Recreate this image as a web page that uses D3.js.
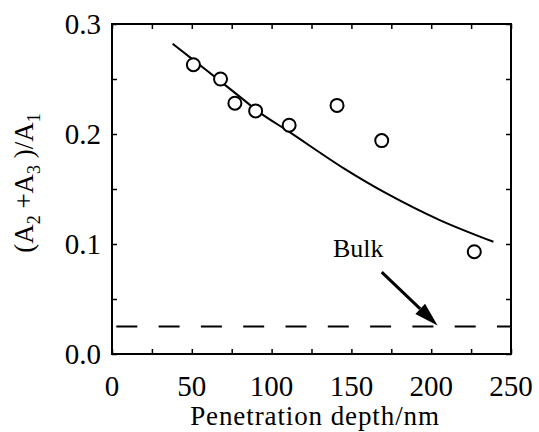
<!DOCTYPE html>
<html>
<head>
<meta charset="utf-8">
<script src="https://cdn.jsdelivr.net/npm/d3@7"></script>
<style>
  body { margin: 0; background: #fff; }
</style>
</head>
<body>
<div id="chart"></div>
<script>
// measured points
const depth = [51, 68, 77, 90, 111, 141, 169, 227];
const ratio = [0.263, 0.250, 0.228, 0.221, 0.208, 0.226, 0.194, 0.093];

// fitted curve
const fitDepth = [38, 60, 80, 93, 112, 145, 172, 205, 239];
const fitRatio = [0.282, 0.257, 0.234, 0.219, 0.201, 0.169, 0.146, 0.122, 0.102];

const bulkLevel = 0.025;
const arrowFrom = [169, 0.0745];
const arrowTo = [204, 0.026];

const xTicks = [0, 50, 100, 150, 200, 250];
const yTicks = [0.0, 0.1, 0.2, 0.3];

const serif = "'Liberation Serif', 'Times New Roman', Times, serif";

const width = 539, height = 432;
const margin = {top: 24, right: 28, bottom: 78, left: 112};

const svg = d3.select("#chart")
  .append("svg")
  .attr("width", width)
  .attr("height", height)
  .attr("font-family", serif);

const xScale = d3.scaleLinear()
  .domain([0, 250])
  .range([margin.left, width - margin.right]);

const yScale = d3.scaleLinear()
  .domain([0, 0.3])
  .range([height - margin.bottom, margin.top]);

const x0 = xScale(0), x1 = xScale(250), y0 = yScale(0), y1 = yScale(0.3);

// inward ticks on all four sides, every 25 nm and every 0.05
const minorX = d3.range(0, 251, 25);
const minorY = d3.range(0, 0.301, 0.05);

svg.append("g")
  .attr("transform", `translate(0, ${y0})`)
  .call(d3.axisBottom(xScale).tickValues(minorX).tickSize(-5).tickFormat(""))
  .call(g => g.select(".domain").remove());
svg.append("g")
  .attr("transform", `translate(0, ${y1})`)
  .call(d3.axisTop(xScale).tickValues(minorX).tickSize(-5).tickFormat(""))
  .call(g => g.select(".domain").remove());
svg.append("g")
  .attr("transform", `translate(${x0}, 0)`)
  .call(d3.axisLeft(yScale).tickValues(minorY).tickSize(-5).tickFormat(""))
  .call(g => g.select(".domain").remove());
svg.append("g")
  .attr("transform", `translate(${x1}, 0)`)
  .call(d3.axisRight(yScale).tickValues(minorY).tickSize(-5).tickFormat(""))
  .call(g => g.select(".domain").remove());

svg.selectAll(".tick line").attr("stroke", "#000").attr("stroke-width", 1.5);

// frame
svg.append("rect")
  .attr("x", x0).attr("y", y1)
  .attr("width", x1 - x0).attr("height", y0 - y1)
  .attr("fill", "none")
  .attr("stroke", "#000")
  .attr("stroke-width", 2);

// tick labels
svg.selectAll(".xlab")
  .data(xTicks)
  .enter()
  .append("text")
  .attr("class", "xlab")
  .attr("x", d => xScale(d))
  .attr("y", 396)
  .attr("text-anchor", "middle")
  .style("font-family", serif)
  .style("font-size", "29px")
  .text(d => d);

svg.selectAll(".ylab")
  .data(yTicks)
  .enter()
  .append("text")
  .attr("class", "ylab")
  .attr("x", x0 - 11)
  .attr("y", d => yScale(d))
  .attr("dy", "0.36em")
  .attr("text-anchor", "end")
  .style("font-family", serif)
  .style("font-size", "29px")
  .text(d => d.toFixed(1));

// axis titles
svg.append("text")
  .attr("x", 315)
  .attr("y", 425)
  .attr("text-anchor", "middle")
  .style("font-family", serif)
  .style("font-size", "27px")
  .style("letter-spacing", "0.9px")
  .text("Penetration depth/nm");

const yTitle = svg.append("text")
  .attr("transform", "translate(33, 183) rotate(-90)")
  .attr("text-anchor", "middle")
  .style("font-family", serif)
  .style("font-size", "27px");
yTitle.append("tspan").text("(A");
yTitle.append("tspan").attr("dy", 7).style("font-size", "18px").text("2");
yTitle.append("tspan").attr("dy", -7).text(" +A");
yTitle.append("tspan").attr("dy", 7).style("font-size", "18px").text("3");
yTitle.append("tspan").attr("dy", -7).text(" )/A");
yTitle.append("tspan").attr("dy", 7).style("font-size", "18px").text("1");

// bulk dashed level
svg.append("line")
  .attr("x1", x0).attr("x2", x1)
  .attr("y1", yScale(bulkLevel)).attr("y2", yScale(bulkLevel))
  .attr("stroke", "#000")
  .attr("stroke-width", 2)
  .attr("stroke-dasharray", "21,21.3")
  .attr("stroke-dashoffset", 38);

// fitted curve
const fit = fitDepth.map((d, i) => [d, fitRatio[i]]);
svg.append("path")
  .datum(fit)
  .attr("fill", "none")
  .attr("stroke", "#000")
  .attr("stroke-width", 2)
  .attr("d", d3.line()
    .x(d => xScale(d[0]))
    .y(d => yScale(d[1]))
    .curve(d3.curveCatmullRom));

// points
svg.selectAll(".pt")
  .data(depth.map((d, i) => [d, ratio[i]]))
  .enter()
  .append("circle")
  .attr("class", "pt")
  .attr("cx", d => xScale(d[0]))
  .attr("cy", d => yScale(d[1]))
  .attr("r", 6.5)
  .attr("fill", "#fff")
  .attr("stroke", "#000")
  .attr("stroke-width", 2);

// Bulk label and arrow
svg.append("text")
  .attr("x", 333)
  .attr("y", 257)
  .style("font-family", serif)
  .style("font-size", "26px")
  .text("Bulk");

const ax0 = xScale(arrowFrom[0]), ay0 = yScale(arrowFrom[1]);
const ax1 = xScale(arrowTo[0]), ay1 = yScale(arrowTo[1]);
const ang = Math.atan2(ay1 - ay0, ax1 - ax0);
const headLen = 24, headHalf = 7;
const bx = ax1 - headLen * Math.cos(ang), by = ay1 - headLen * Math.sin(ang);

svg.append("line")
  .attr("x1", ax0).attr("y1", ay0)
  .attr("x2", bx).attr("y2", by)
  .attr("stroke", "#000")
  .attr("stroke-width", 3);

svg.append("path")
  .attr("d", `M${ax1},${ay1}L${bx + headHalf * Math.sin(ang)},${by - headHalf * Math.cos(ang)}L${bx - headHalf * Math.sin(ang)},${by + headHalf * Math.cos(ang)}Z`)
  .attr("fill", "#000");
</script>
</body>
</html>
